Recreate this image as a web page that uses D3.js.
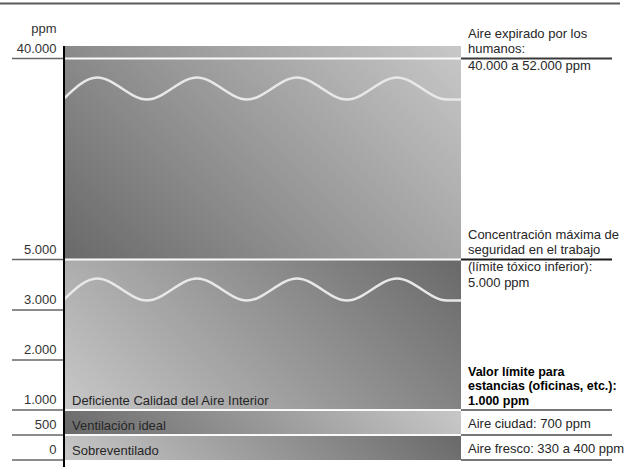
<!DOCTYPE html>
<html lang="es">
<head>
<meta charset="utf-8">
<script src="https://cdn.jsdelivr.net/npm/d3@7/dist/d3.min.js"></script>
<style>
  html, body { margin: 0; padding: 0; background: #fff; }
  svg { display: block; }
  text { font-family: "Liberation Sans", Arial, Helvetica, sans-serif; }
</style>
</head>
<body>
<svg id="chart" width="638" height="467"></svg>
<script>
// CO2 concentration scale (ppm) with a broken axis.
const tickValues = [0, 500, 1000, 2000, 3000, 5000, 40000];
const tickLabels = ["0", "500", "1.000", "2.000", "3.000", "5.000", "40.000"];

// Shaded ranges: lower bound, upper bound, label inside the band, shading direction
const bandFrom   = [0, 500, 1000, 5000];
const bandTo     = [500, 1000, 5000, 52000];
const bandLabels = ["Sobreventilado", "Ventilación ideal", "Deficiente Calidad del Aire Interior", ""];
const bandShade  = ["lightToDark", "darkToLight", "lightToDark", "darkToLight"];

// White dividers drawn across the bands
const dividerValues = [500, 1000, 5000, 40000];

// Axis breaks (the wavy lines): the break sits just under its upper value
const breakUpper = [40000, 5000];

// Reference notes on the right, tied to a ppm level
const noteValues = [40000, 5000, 1000, 500, 0];
const noteAbove = [
  ["Aire expirado por los", "humanos:"],
  ["Concentración máxima de", "seguridad en el trabajo"],
  ["Valor límite para", "estancias (oficinas, etc.):", "1.000 ppm"],
  ["Aire ciudad: 700 ppm"],
  ["Aire fresco: 330 a 400 ppm"]
];
const noteBelow = [
  ["40.000 a 52.000 ppm"],
  ["(límite tóxico inferior):", "5.000 ppm"],
  [], [], []
];
const noteBold = [false, false, true, false, false];

// ---- layout ----
const svg = d3.select("#chart");
const axisX = 64, bandRight = 461, noteLeft = 468, noteRight = 612, tickLeft = 12;

// Piecewise-linear scale: 0–3000 is linear, above that the axis is compressed
const y = d3.scaleLinear()
  .domain([0, 3000, 5000, 40000, 52000])
  .range([460, 310, 259.5, 58.5, 46]);

const defs = svg.append("defs");
const dark = "#696969", light = "#c8c8c8";

// Diagonal (45°) gradient per band
bandFrom.forEach((v, i) => {
  const x0 = axisX, y0 = y(v), yTop = y(bandTo[i]);
  const w = bandRight - x0, h = y0 - yTop;
  const d = (w + h) / 2;
  const g = defs.append("linearGradient")
    .attr("id", "band" + i)
    .attr("gradientUnits", "userSpaceOnUse")
    .attr("x1", x0).attr("y1", y0)
    .attr("x2", x0 + d).attr("y2", y0 - d);
  const [c0, c1] = bandShade[i] === "darkToLight" ? [dark, light] : [light, dark];
  g.append("stop").attr("offset", 0).attr("stop-color", c0);
  g.append("stop").attr("offset", 1).attr("stop-color", c1);
});

// Top rule
svg.append("line")
  .attr("x1", 0).attr("x2", 620).attr("y1", 3.5).attr("y2", 3.5)
  .attr("stroke", "#5a5a5a").attr("stroke-width", 2);

// Bands
svg.append("g").selectAll("rect")
  .data(bandFrom)
  .join("rect")
  .attr("x", axisX)
  .attr("y", (d, i) => y(bandTo[i]))
  .attr("width", bandRight - axisX)
  .attr("height", (d, i) => y(d) - y(bandTo[i]))
  .attr("fill", (d, i) => `url(#band${i})`);

// Dividers
svg.append("g").selectAll("line")
  .data(dividerValues)
  .join("line")
  .attr("x1", axisX).attr("x2", bandRight)
  .attr("y1", d => y(d)).attr("y2", d => y(d))
  .attr("stroke", "#fafafa").attr("stroke-width", 2);

// Axis-break waves
const wavePeriod = 100, waveAmp = 11, waveDrop = 30, firstPeak = 33;
const waveLine = d3.line().curve(d3.curveMonotoneX);
breakUpper.forEach(u => {
  const mid = y(u) + waveDrop;
  const pts = [[axisX, mid + waveAmp - 1]];
  for (let k = 0; ; k++) {
    const px = axisX + firstPeak + k * wavePeriod / 2;
    if (px >= bandRight) break;
    pts.push([px, k % 2 === 0 ? mid - waveAmp : mid + waveAmp]);
  }
  pts.push([bandRight, mid + waveAmp]);
  svg.append("path")
    .attr("d", waveLine(pts))
    .attr("fill", "none")
    .attr("stroke", "#e8e8e8")
    .attr("stroke-width", 2.6);
});

// Band labels, set just above each band's lower bound
svg.append("g").selectAll("text")
  .data(bandLabels)
  .join("text")
  .attr("x", axisX + 8)
  .attr("y", (d, i) => y(bandFrom[i]) - 5.5)
  .attr("font-size", 13)
  .attr("fill", "#262626")
  .text(d => d);

// Tick lines + labels on the left
const ticks = svg.append("g");
ticks.selectAll("line")
  .data(tickValues)
  .join("line")
  .attr("x1", tickLeft).attr("x2", axisX)
  .attr("y1", d => y(d)).attr("y2", d => y(d))
  .attr("stroke", "#666").attr("stroke-width", 1.6);
ticks.selectAll("text")
  .data(tickValues)
  .join("text")
  .attr("x", 56.5)
  .attr("y", d => y(d) - 6)
  .attr("text-anchor", "end")
  .attr("font-size", 13)
  .attr("fill", "#333")
  .text((d, i) => tickLabels[i]);

svg.append("text")
  .attr("x", 56.5).attr("y", y(52000) - 13.5)
  .attr("text-anchor", "end")
  .attr("font-size", 13)
  .attr("fill", "#333")
  .text("ppm");

// Vertical axis
svg.append("line")
  .attr("x1", axisX).attr("x2", axisX)
  .attr("y1", y(52000)).attr("y2", 467)
  .attr("stroke", "#000").attr("stroke-width", 2);

// Notes on the right
const noteColor = ["#3a3a3a", "#1a1a1a", "#777", "#777", "#777"];
const lineStep = 15.5;
noteValues.forEach((v, i) => {
  const ly = y(v);
  svg.append("line")
    .attr("x1", bandRight).attr("x2", noteRight)
    .attr("y1", ly).attr("y2", ly)
    .attr("stroke", noteColor[i]).attr("stroke-width", 2);
  const g = svg.append("g")
    .attr("font-size", noteBold[i] ? 12.5 : 13)
    .attr("font-weight", noteBold[i] ? "bold" : "normal")
    .attr("fill", noteBold[i] ? "#000" : "#262626");
  const above = noteAbove[i];
  const gap = above.length === 1 ? 7 : 5.5;
  above.forEach((t, k) => {
    g.append("text")
      .attr("x", noteLeft)
      .attr("y", ly - gap - (above.length - 1 - k) * (noteBold[i] ? 14.5 : lineStep))
      .text(t);
  });
  noteBelow[i].forEach((t, k) => {
    g.append("text")
      .attr("x", noteLeft)
      .attr("y", ly + 11.5 + k * lineStep)
      .text(t);
  });
});
</script>
</body>
</html>
